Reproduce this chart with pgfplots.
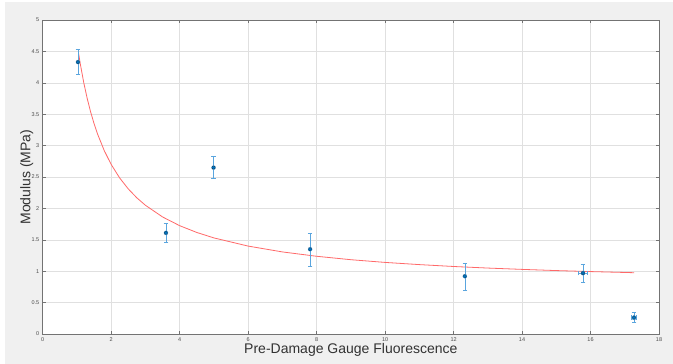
\documentclass[border=0pt]{standalone}
\usepackage{pgfplots}
\pgfplotsset{compat=1.18}
\usepackage{fontspec}
\setmainfont{Liberation Sans}
\definecolor{bgc}{RGB}{240,240,240}
\definecolor{mblue}{RGB}{0,114,189}
\definecolor{eblue}{RGB}{90,165,222}
\definecolor{fitred}{RGB}{255,105,105}
\definecolor{txt}{RGB}{50,50,50}
\begin{document}
\begin{tikzpicture}[x=1pt,y=1pt]
\useasboundingbox (0,0) rectangle (673,364);
\fill[bgc] (0,0) rectangle (673,364);
\fill[white] (0,0) rectangle (5,364);
\fill[white] (0,362) rectangle (673,364);
\begin{axis}[
  at={(42.7pt,30pt)}, anchor=south west,
  width=616.3pt, height=314pt, scale only axis,
  xmin=0, xmax=18, ymin=0, ymax=5,
  xtick={0,2,...,18}, ytick={0,0.5,...,5},
  yticklabels={0,0.5,1,1.5,2,2.5,3,3.5,4,4.5,5},
  xticklabels={0,2,4,6,8,10,12,14,16,18},
  axis background/.style={fill=white},
  axis line style={draw=black!55, line width=0.6pt},
  tick style={draw=black!55, line width=0.5pt},
  tick align=inside, major tick length=3pt,
  xtick pos=both, ytick pos=both,
  grid=major, major grid style={draw=black!12, line width=0.5pt},
  ticklabel style={font=\fontsize{5.5}{6}\selectfont, text=black!70},
  xlabel={Pre-Damage Gauge Fluorescence},
  ylabel={Modulus (MPa)},
  label style={font=\fontsize{14}{16}\selectfont, text=txt},
  xlabel style={at={(axis description cs:0.5,0)}, anchor=north, yshift=-6pt},
  ylabel style={at={(axis description cs:0,0.5)}, anchor=south, yshift=6pt},
  clip=false,
]
\addplot[fitred, line width=0.8pt, no marks] coordinates {
(1.05,4.464) (1.1,4.295) (1.2,4.0) (1.3,3.75) (1.4,3.536) (1.5,3.35)
(1.6,3.1875) (1.8,2.917) (2.0,2.70) (2.25,2.483) (2.5,2.31) (2.75,2.168)
(3,2.05) (3.5,1.864) (4,1.725) (4.5,1.617) (5,1.53) (6,1.40) (7,1.307)
(8,1.2375) (9,1.183) (10,1.14) (11,1.105) (12,1.075) (13,1.05) (14,1.029)
(15,1.01) (16,0.994) (17.27,0.976)
};
% vertical error bars
\addplot[only marks, mark=none, draw=eblue,
  error bars/.cd,
  y dir=both, y explicit,
  error bar style={draw=eblue, line width=0.6pt},
  error mark=|,
  error mark options={draw=eblue, mark size=2.3pt, line width=0.6pt},
] table[x=x, y=y, y error plus=yp, y error minus=ym] {
x y yp ym
1.03 4.33 0.20 0.20
3.60 1.61 0.15 0.15
4.99 2.65 0.18 0.17
7.81 1.35 0.26 0.27
12.33 0.92 0.21 0.22
15.78 0.97 0.14 0.15
17.27 0.26 0.08 0.08
};
% horizontal error bars
\addplot[only marks, mark=none, draw=eblue,
  error bars/.cd,
  x dir=both, x explicit,
  error bar style={draw=eblue, line width=0.6pt},
  error mark=|,
  error mark options={draw=eblue, mark size=2.3pt, line width=0.6pt},
] table[x=x, y=y, x error=xe] {
x y xe
15.78 0.97 0.13
17.27 0.26 0.08
};
% markers
\addplot[only marks, mark=*, mark size=1.4pt, mark options={fill=mblue, draw=mblue}] table[x=x, y=y] {
x y
1.03 4.33
3.60 1.61
4.99 2.65
7.81 1.35
12.33 0.92
15.78 0.97
17.27 0.26
};
\end{axis}
\end{tikzpicture}
\end{document}
